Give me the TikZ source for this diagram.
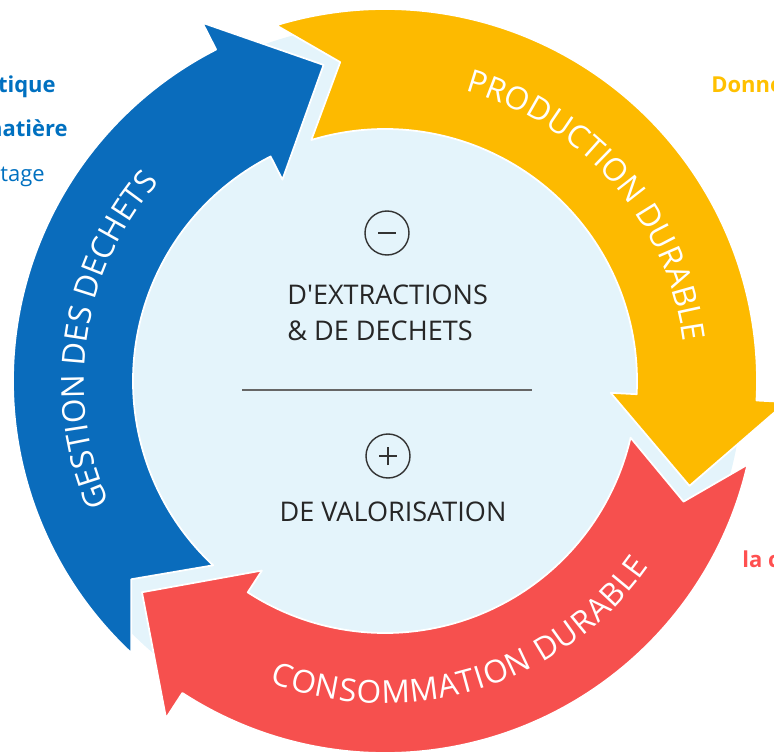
\documentclass[tikz,border=0pt]{standalone}
\usepackage{fontspec}
\setmainfont{Open Sans}[Ligatures=TeXOff]
\usepackage{tikz}
\usetikzlibrary{decorations.text}
\definecolor{discblue}{HTML}{E4F4FB}
\definecolor{cycleblue}{HTML}{0A6CBC}
\definecolor{cycleyellow}{HTML}{FDBA00}
\definecolor{cyclered}{HTML}{F6504E}
\definecolor{sideblue}{HTML}{0070C0}
\definecolor{sideyellow}{HTML}{FFC000}
\definecolor{sidered}{HTML}{FF5050}
\newcommand\arcfont{\fontsize{18}{18}\selectfont\color{white}}
\tikzset{
    band/.style={
           draw=white, line width=1pt,
           line join=round,
           },
    sign/.style={
           circle,
           draw=black!80, line width=0.8pt,
           minimum size=0.88cm, inner sep=0pt,
           },
    signbar/.style={draw=black!80, line width=0.8pt},
    divider/.style={draw=black!60, line width=0.9pt},
    centertext/.style={text=black!85, font=\fontsize{15.4}{17}\selectfont, inner sep=0pt},
    sidetext/.style={font=\fontsize{12.5}{14}\selectfont, inner sep=0pt},
}

\begin{document}
\begin{tikzpicture}
\useasboundingbox (-7.7,-7.42) rectangle (7.78,7.62);
\fill[discblue] (0,0) circle (7.15);
% the three arrows
\filldraw[band, fill=cycleblue] (227:7.44) arc (227:117:7.44) -- (117:8.04) -- (101:6.44) -- (117:4.52) -- (117:5.04) arc (117:227:5.04) -- (218:6.44) -- cycle;
\filldraw[band, fill=cycleyellow] (107:7.44) arc (107:-3:7.44) -- (-3:8.04) -- (-19:6.44) -- (-3:4.52) -- (-3:5.04) arc (-3:107:5.04) -- (98:6.44) -- cycle;
\filldraw[band, fill=cyclered] (-13:7.44) arc (-13:-123:7.44) -- (-123:8.04) -- (-139:6.44) -- (-123:4.52) -- (-123:5.04) arc (-123:-13:5.04) -- (-22:6.44) -- cycle;
% labels on the arrows
\path[decorate, decoration={text along path, text align={fit to path}, text={|\arcfont|GESTION DES DECHETS}}] (204:6.02) arc (204:139:6.02);
\path[decorate, decoration={text along path, text align={fit to path}, text={|\arcfont|PRODUCTION DURABLE}}] (74.5:6.02) arc (74.5:7.5:6.02);
\path[decorate, decoration={text along path, text align={fit to path}, text={|\arcfont|CONSOMMATION DURABLE}}] (249:6.45) arc (249:325:6.45);
% centre
\node[sign] (minus) at (0.04,2.96) {};
\draw[signbar] ([xshift=-0.18cm]minus.center) -- ([xshift=0.18cm]minus.center);
\node[centertext, anchor=west] (extr) at (-1.96,1.72) {D'EXTRACTIONS};
\node[centertext, anchor=west] (dech) at (-1.96,1.0) {\& DE DECHETS};
\coordinate (lineL) at (-2.86,-0.18);
\coordinate (lineR) at (2.94,-0.18);
\draw[divider] (lineL) -- (lineR);
\node[sign] (plus) at (0.06,-1.5) {};
\draw[signbar] ([xshift=-0.18cm]plus.center) -- ([xshift=0.18cm]plus.center);
\draw[signbar] ([yshift=-0.18cm]plus.center) -- ([yshift=0.18cm]plus.center);
\node[centertext] (valo) at (0.16,-2.62) {DE VALORISATION};
% cut texts at the edges
\node[sidetext, text=sideblue, anchor=base east] (tique) at (-6.58,5.76) {\bfseries tique};
\node[sidetext, text=sideblue, anchor=base east] (matiere) at (-6.34,4.88) {\bfseries natière};
\node[sidetext, text=sideblue, anchor=base east] (tage) at (-6.8,3.98) {tage};
\node[sidetext, text=sideyellow, anchor=base west] (donne) at (6.52,5.76) {\bfseries Donne};
\node[sidetext, text=sidered, anchor=base west] (lac) at (7.14,-3.72) {\bfseries la c};
\end{tikzpicture}
\end{document}
